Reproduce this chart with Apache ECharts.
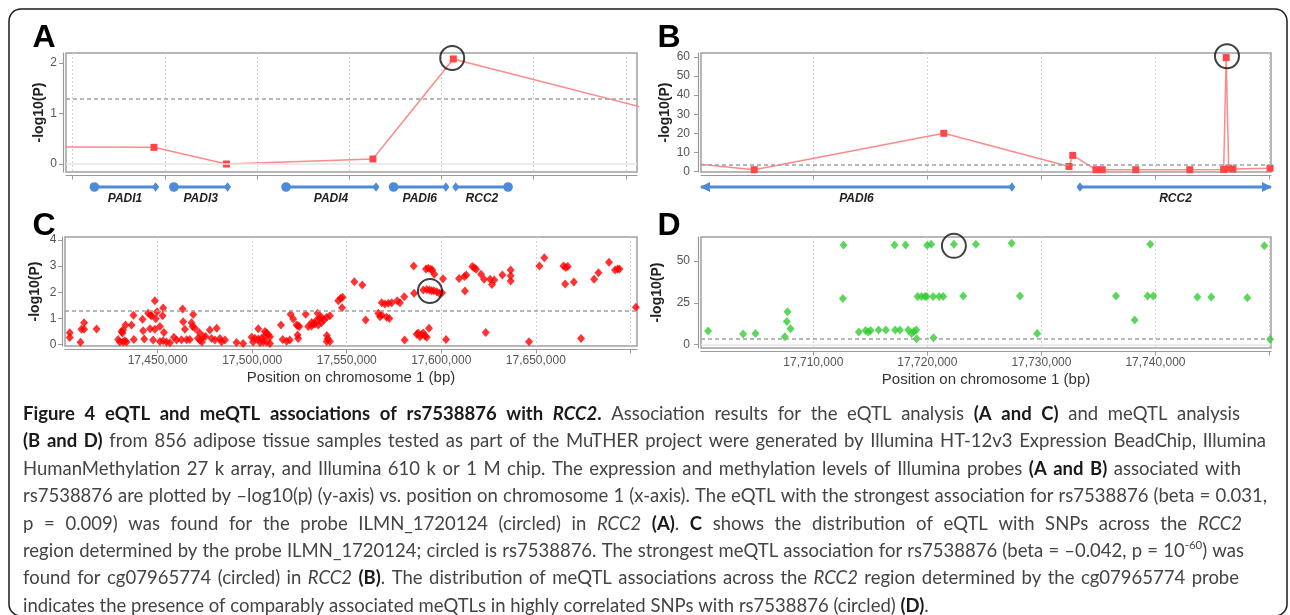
<!DOCTYPE html>
<html><head><meta charset="utf-8">
<script src="https://cdn.jsdelivr.net/npm/echarts@6/dist/echarts.min.js"></script>
<style>html,body{margin:0;padding:0;background:#fff}#c{width:1290px;height:615px}</style>
</head><body><div id="c"></div>
<script>
// ---------------- DATA ----------------
// Panel A: eQTL, -log10(P) of rs7538876 for expression probes (position in kb)
const aPosKb = [17471.4, 17544.1, 17583.4, 17662.8, 17706.4, 17840.2];
const aLogP  = [0.34, 0.33, 0.00, 0.10, 2.08, 0.83];
const aCircled = [17705.8, 2.10];
const aXTicks = [17500, 17550, 17600, 17650, 17700, 17750, 17800];
const aYTicks = [0, 1, 2];
const genesA = ['PADI1', 'PADI3', 'PADI4', 'PADI6', 'RCC2'];
const genesAStart = [17511.8, 17554.9, 17615.7, 17674.0, 17707.7];
const genesAEnd   = [17545.0, 17584.0, 17664.5, 17702.4, 17736.1];
const genesAStrand = [1, 1, 1, 1, -1];

// Panel B: meQTL, -log10(P) of rs7538876 for methylation probes
const bPos  = [17699000, 17704816, 17721440, 17732420, 17732745, 17734780, 17735330, 17738270, 17743010, 17745980, 17746200, 17746420, 17746790, 17750050];
const bLogP = [4.4, 0.9, 20.0, 2.6, 8.4, 0.9, 0.9, 0.9, 0.9, 1.0, 59.7, 1.7, 1.3, 1.7];
const bCircled = [17746270, 60.4];
const bYTicks = [0, 10, 20, 30, 40, 50, 60];
const genesB = ['PADI6', 'RCC2'];
const genesBStart = [17698740, 17733380];
const genesBEnd   = [17727410, 17766220];
const genesBStrand = [1, -1];

// Panel C: eQTL SNPs for probe ILMN_1720124
const cPos = [17403500,17403500,17409200,17409700,17411100,17411100,17417700,17429100,17430000,17431700,
17432600,17433500,17430900,17431700,17431400,17433000,17436200,17437200,17437400,17442000,
17442300,17442900,17445000,17446200,17446800,17446000,17447600,17448500,17449000,17448500,
17449700,17451200,17452900,17452600,17453300,17451200,17452900,17454700,17456500,17458600,
17460000,17463200,17463500,17464400,17462600,17465300,17467000,17467900,17468500,17468800,
17469700,17472000,17471300,17472300,17473400,17474100,17475300,17477600,17478500,17481200,
17480300,17482900,17483800,17485600,17491700,17495200,17499700,17501400,17503200,17505000,
17506700,17508500,17509400,17503200,17506700,17507600,17500500,17504100,17505800,17507600,
17509400,17515200,17516100,17518200,17519900,17520300,17521700,17523500,17524900,17524200,
17524000,17524300,17528300,17529600,17531400,17533200,17534100,17535800,17536700,17537900,
17539400,17541100,17531400,17532300,17535000,17536700,17534600,17539500,17540000,17541100,
17539400,17545500,17546800,17547800,17547500,17554000,17558200,17560000,17566700,17567600,
17568500,17568500,17570200,17572000,17573800,17571100,17572500,17576700,17578100,17580400,
17580600,17585400,17585600,17587000,17587800,17588700,17589600,17590500,17591400,17592300,
17590500,17592300,17593700,17594900,17596100,17597600,17598900,17591900,17593100,17594400,
17595200,17593500,17596300,17600900,17600400,17602500,17609400,17612200,17613200,17612500,
17616400,17617500,17618400,17621000,17622600,17625800,17628000,17626800,17623500,17632300,
17636700,17636700,17636700,17646400,17651900,17654500,17664600,17665800,17666900,17665500,
17670100,17673900,17680800,17683100,17688700,17691900,17693300,17694200,17702900];
const cLogP = [0.46,0.27,0.09,0.59,0.59,0.84,0.60,0.20,0.10,0.10,
0.15,0.10,0.50,0.56,0.45,0.75,0.75,1.12,0.20,0.97,
0.53,0.22,1.20,1.13,1.10,0.61,0.18,1.68,0.99,0.59,
1.26,0.69,1.40,1.10,0.47,0.12,0.15,0.10,0.07,0.28,
0.18,1.36,0.88,0.59,0.19,0.19,0.20,0.84,0.69,1.15,
0.63,0.47,0.25,0.18,0.10,0.31,0.31,0.56,0.24,0.63,
0.18,0.24,0.11,0.18,0.08,0.05,0.28,0.25,0.22,0.25,
0.33,0.37,0.30,0.61,0.50,0.46,0.10,0.08,0.10,0.10,
0.05,0.75,0.20,0.13,0.18,1.16,0.98,0.75,0.69,0.72,
0.37,0.24,1.16,0.69,0.71,0.79,0.94,1.00,1.05,0.94,
1.05,1.10,0.85,0.80,0.75,0.85,1.20,0.35,0.23,0.12,
0.12,1.68,1.77,1.81,1.41,2.40,2.28,0.94,1.20,1.07,
1.13,1.60,1.55,1.58,1.60,1.05,1.00,1.68,1.60,1.83,
0.18,3.00,1.96,0.40,0.45,0.30,0.38,0.45,0.33,0.28,
2.09,2.11,2.09,2.06,2.06,2.02,1.96,2.89,2.92,2.88,
2.85,0.63,2.69,2.52,1.98,0.20,2.53,2.60,2.66,2.05,
2.98,2.94,2.88,2.69,2.50,2.50,2.47,2.30,0.47,2.66,
2.85,2.63,2.43,0.11,3.00,3.32,3.00,2.95,2.98,2.32,
2.39,0.24,2.50,2.75,3.15,2.85,2.89,2.89,1.43];
const cCircled = [17594000, 2.05];
const cXTicks = [17450000, 17500000, 17550000, 17600000, 17650000, 17700000];
const cXTickLabels = ['17,450,000', '17,500,000', '17,550,000', '17,600,000', '17,650,000', ''];
const cYTicks = [0, 1, 2, 3, 4];

// Panel D: meQTL SNPs for probe cg07965774
const dPos = [17700772,17703842,17704930,17707500,17707675,17707737,17708000,17712649,17712588,17713990,
17714580,17714810,17715020,17715720,17716360,17717120,17717175,17717590,17718090,17718320,
17718610,17718815,17719020,17719050,17719140,17719490,17719780,17719930,17720510,17721040,
17721390,17719980,17720330,17720540,17722325,17723140,17724255,17727386,17728115,17729630,
17736535,17738175,17739315,17739810,17739545,17743670,17744895,17748055,17749545,17750050];
const dLogP = [8.1,6.3,6.7,4.7,13.9,19.7,9.5,59.5,27.5,7.5,
8.5,7.5,8.5,8.7,8.7,59.5,8.7,8.7,59.5,8.7,
6.7,7.9,8.7,3.5,28.7,28.7,28.7,28.7,28.7,28.7,
28.7,59.3,60.0,4.1,60.0,29.0,60.0,60.6,29.0,6.7,
29.0,14.7,29.0,29.0,60.0,28.4,28.4,28.0,59.0,3.3];
const dCircled = [17722325, 59.0];
const bdXTicks = [17710000, 17720000, 17730000, 17740000, 17750000];
const dXTickLabels = ['17,710,000', '17,720,000', '17,730,000', '17,740,000', ''];
const dYTicks = [0, 25, 50];

const thresholdEQTL = 1.3;
const thresholdMeQTL = 3.6;

// Caption (markup: {b|bold} {bi|bold italic} {i|italic} {sup|superscript})
const captionLines = [
 '{b|Figure 4 eQTL and meQTL associations of rs7538876 with }{bi|RCC2}{b|.} Association results for the eQTL analysis {b|(A and C)} and meQTL analysis',
 '{b|(B and D)} from 856 adipose tissue samples tested as part of the MuTHER project were generated by Illumina HT-12v3 Expression BeadChip, Illumina',
 'HumanMethylation 27 k array, and Illumina 610 k or 1 M chip. The expression and methylation levels of Illumina probes {b|(A and B)} associated with',
 'rs7538876 are plotted by \u2013log10(p) (y-axis) vs. position on chromosome 1 (x-axis). The eQTL with the strongest association for rs7538876 (beta = 0.031,',
 'p = 0.009) was found for the probe ILMN_1720124 (circled) in {i|RCC2} {b|(A)}. {b|C} shows the distribution of eQTL with SNPs across the {i|RCC2}',
 'region determined by the probe ILMN_1720124; circled is rs7538876. The strongest meQTL association for rs7538876 (beta = \u20130.042, p = 10{sup|-60}) was',
 'found for cg07965774 (circled) in {i|RCC2} {b|(B)}. The distribution of meQTL associations across the {i|RCC2} region determined by the cg07965774 probe',
 'indicates the presence of comparably associated meQTLs in highly correlated SNPs with rs7538876 (circled) {b|(D)}.'
];

// ---------------- LAYOUT ----------------
const FONT = '"Liberation Sans", Arial, sans-serif';
const aRange = [17496.4, 17806.0];
const bdRange = [17700150, 17750130];
const cRange = [17401000, 17703500];

const zip = (xs, ys) => xs.map((x, i) => [x, ys[i]]);

function mkX(gi, range, ticks, labels, name) {
  const lm = {};
  ticks.forEach((t, i) => { lm[t] = labels ? labels[i] : ''; });
  return {
    type: 'value', gridIndex: gi, min: range[0], max: range[1], offset: 3.5,
    name: name || '', nameLocation: 'middle', nameGap: 21,
    nameTextStyle: {fontFamily: FONT, fontSize: 15, color: '#333'},
    axisLine: {show: true, onZero: false, lineStyle: {color: '#9a9a9a', width: 1.2}},
    axisTick: {show: true, inside: false, length: 4, customValues: ticks, lineStyle: {color: '#9a9a9a'}},
    axisLabel: {show: !!labels, customValues: ticks, margin: 5, color: '#555', fontSize: 12, fontFamily: FONT,
      formatter: v => (lm[v] !== undefined ? lm[v] : '')},
    splitLine: {show: true, lineStyle: {color: '#d4d4d4', width: 1, type: [2, 2]}}
  };
}
function mkY(gi, min, max, ticks, gap, margin) {
  return {
    type: 'value', gridIndex: gi, min: min, max: max, offset: 3,
    name: '-log10(P)', nameLocation: 'middle', nameRotate: 90, nameGap: gap,
    nameTextStyle: {fontFamily: FONT, fontWeight: 'bold', fontSize: 14, color: '#222'},
    axisLine: {show: true, onZero: false, lineStyle: {color: '#9a9a9a', width: 1.2}},
    axisTick: {show: true, inside: false, length: 4, customValues: ticks, lineStyle: {color: '#9a9a9a'}},
    axisLabel: {customValues: ticks, margin: margin, color: '#555', fontSize: 12, fontFamily: FONT,
      formatter: v => (ticks.indexOf(v) >= 0 ? String(v) : '')},
    splitLine: {show: false}
  };
}
function hiddenX(gi, range) { return {type: 'value', gridIndex: gi, min: range[0], max: range[1], show: false}; }
function hiddenY(gi) { return {type: 'value', gridIndex: gi, min: 0, max: 1, show: false}; }

const gridBox = {show: true, borderColor: '#a0a0a0', borderWidth: 1.5, backgroundColor: '#fff'};
const threshStyle = {type: [4, 3], color: '#a0a0a0', width: 1.5};

function thresholdLine(v, zeroLine) {
  const data = [{yAxis: v, lineStyle: threshStyle}];
  if (zeroLine) data.push({yAxis: 0, lineStyle: {type: 'solid', color: '#e4e4e4', width: 1.5}});
  return {silent: true, symbol: 'none', label: {show: false}, animation: false, data: data};
}
function ring(xi, yi, pt) {
  return {type: 'scatter', xAxisIndex: xi, yAxisIndex: yi, data: [pt], symbol: 'circle', symbolSize: 24, z: 10,
    itemStyle: {color: 'rgba(0,0,0,0)', borderColor: '#111', borderWidth: 2}, silent: true};
}

const GENE_COLOR = '#4d8ad8';
function geneSeries(xi, names, starts, ends, strands, range) {
  return {
    type: 'custom', xAxisIndex: xi, yAxisIndex: xi, clip: false, silent: true,
    data: starts.map((s, i) => [s, ends[i], strands[i]]),
    renderItem: function (params, api) {
      const i = params.dataIndex;
      const s = api.value(0), e = api.value(1), strand = api.value(2);
      const cs = Math.max(s, range[0]), ce = Math.min(e, range[1]);
      const p1 = api.coord([cs, 0.5]), p2 = api.coord([ce, 0.5]);
      const y = p1[1];
      const kids = [{type: 'line', shape: {x1: p1[0], y1: y, x2: p2[0], y2: y}, style: {stroke: GENE_COLOR, lineWidth: 3}}];
      function mark(x, kind, dir) {
        if (kind === 'arrow') return {type: 'polygon', shape: {points: [[x + dir * 1, y], [x - dir * 9, y - 5], [x - dir * 9, y + 5]]}, style: {fill: GENE_COLOR}};
        if (kind === 'circle') return {type: 'circle', shape: {cx: x, cy: y, r: 4.8}, style: {fill: GENE_COLOR}};
        return {type: 'polygon', shape: {points: [[x - 3.5, y], [x, y - 4.8], [x + 3.5, y], [x, y + 4.8]]}, style: {fill: GENE_COLOR}};
      }
      const lk = s < range[0] ? 'arrow' : (strand > 0 ? 'circle' : 'diamond');
      const rk = e > range[1] ? 'arrow' : (strand > 0 ? 'diamond' : 'circle');
      kids.push(mark(p1[0], lk, -1));
      kids.push(mark(p2[0], rk, 1));
      kids.push({type: 'text', x: (p1[0] + p2[0]) / 2, y: y + 12,
        style: {text: names[i], font: 'italic bold 12px ' + FONT, fill: '#222', align: 'center', verticalAlign: 'middle', textAlign: 'center', textVerticalAlign: 'middle'}});
      return {type: 'group', children: kids};
    }
  };
}

// ---------------- CAPTION LAYOUT ----------------
const mctx = document.createElement('canvas').getContext('2d');
function fontAvailable(name) {
  const s = 'abcdefghijklmnopqrstuvwxyz ABCDEFGHIJ 0123456789';
  mctx.font = '40px monospace'; const w0 = mctx.measureText(s).width;
  mctx.font = '40px "' + name + '", monospace'; const w1 = mctx.measureText(s).width;
  return Math.abs(w0 - w1) > 0.5;
}
let capFamily = '"Liberation Sans"';
if (fontAvailable('Liberation Sans Narrow')) capFamily = '"Liberation Sans Narrow"';
else if (fontAvailable('Lato')) capFamily = 'Lato';

function capFont(st, size) {
  const bold = (st === 'b' || st === 'bi'), ital = (st === 'i' || st === 'bi');
  const sz = st === 'sup' ? Math.round(size * 0.62 * 2) / 2 : size;
  return (ital ? 'italic ' : '') + (bold ? 'bold ' : '') + sz + 'px ' + capFamily;
}
function parseRuns(line) {
  const re = /\{(\w+)\|([^}]*)\}|([^{]+)/g; let m; const runs = [];
  while ((m = re.exec(line))) { if (m[1]) runs.push([m[1], m[2]]); else runs.push(['r', m[3]]); }
  return runs;
}
function toWords(runs) {
  const words = []; let cur = [];
  runs.forEach(([st, txt]) => {
    txt.split(' ').forEach((p, i) => {
      if (i > 0) { if (cur.length) words.push(cur); cur = []; }
      if (p) cur.push([st, p]);
    });
  });
  if (cur.length) words.push(cur);
  return words;
}
function measureRun(st, t, size) { mctx.font = capFont(st, size); return mctx.measureText(t).width; }
function wordWidth(w, size) { return w.reduce((a, r) => a + measureRun(r[0], r[1], size), 0); }

const capX0 = 23;
const capEnds = [1240, 1266, 1241, 1267, 1242, 1244, 1239];
const capWords = captionLines.map(l => toWords(parseRuns(l)));
let capSize = 19;
capWords.forEach((ws, i) => {
  if (i >= capEnds.length) return;
  const nat = ws.reduce((a, w) => a + wordWidth(w, 20), 0) + (ws.length - 1) * measureRun('r', ' ', 20) * 0.85;
  const s = 20 * (capEnds[i] - capX0) / nat;
  if (s < capSize) capSize = s;
});
capSize = Math.floor(capSize * 2) / 2;

const graphics = [];
graphics.push({type: 'rect', silent: true, shape: {x: 9, y: 9, width: 1278, height: 607, r: 12},
  style: {fill: 'none', stroke: '#1a1a1a', lineWidth: 1.5}});
[['A', 44, 38.5], ['B', 669, 38.5], ['C', 44, 226.5], ['D', 669, 226.5]].forEach(([t, x, y]) => {
  graphics.push({type: 'text', x: x, y: y, silent: true,
    style: {text: t, font: 'bold 32px ' + FONT, fill: '#000', align: 'center', verticalAlign: 'middle', textAlign: 'center', textVerticalAlign: 'middle'}});
});
capWords.forEach((ws, i) => {
  const y = 414 + i * 27.4;
  const widths = ws.map(w => wordWidth(w, capSize));
  const total = widths.reduce((a, b) => a + b, 0);
  let gap = measureRun('r', ' ', capSize);
  if (i < capEnds.length && ws.length > 1) gap = (capEnds[i] - capX0 - total) / (ws.length - 1);
  let x = capX0;
  ws.forEach((w, k) => {
    let rx = x;
    w.forEach(([st, t]) => {
      const bold = (st === 'b' || st === 'bi');
      graphics.push({type: 'text', x: rx, y: st === 'sup' ? y - capSize * 0.33 : y, silent: true,
        style: {text: t, font: capFont(st, capSize), fill: bold ? '#1a1a1a' : '#444',
          align: 'left', verticalAlign: 'middle', textAlign: 'left', textVerticalAlign: 'middle'}});
      rx += measureRun(st, t, capSize);
    });
    x += widths[k] + gap;
  });
});

// ---------------- CHART ----------------
const option = {
  animation: false,
  textStyle: {fontFamily: FONT},
  grid: [
    Object.assign({left: 66, top: 53, width: 571, height: 119}, gridBox),
    Object.assign({left: 701, top: 53, width: 570, height: 119}, gridBox),
    Object.assign({left: 65, top: 237, width: 572, height: 109}, gridBox),
    Object.assign({left: 701, top: 237, width: 570, height: 111}, gridBox),
    {left: 66, top: 177, width: 571, height: 20, show: false},
    {left: 701, top: 177, width: 570, height: 20, show: false}
  ],
  xAxis: [
    mkX(0, aRange, aXTicks, null, ''),
    mkX(1, bdRange, bdXTicks, null, ''),
    mkX(2, cRange, cXTicks, cXTickLabels, 'Position on chromosome 1 (bp)'),
    mkX(3, bdRange, bdXTicks, dXTickLabels, 'Position on chromosome 1 (bp)'),
    hiddenX(4, aRange),
    hiddenX(5, bdRange)
  ],
  yAxis: [
    mkY(0, -0.158, 2.198, aYTicks, 16, 6),
    mkY(1, -0.3, 62.1, bYTicks, 26, 8),
    mkY(2, -0.05, 4.11, cYTicks, 20, 5.5),
    mkY(3, -2.0, 64.3, dYTicks, 34, 8),
    hiddenY(4),
    hiddenY(5)
  ],
  series: [
    {type: 'line', xAxisIndex: 0, yAxisIndex: 0, data: zip(aPosKb, aLogP), clip: true,
      symbol: 'rect', symbolSize: 7, showAllSymbol: true, itemStyle: {color: '#ff4747'},
      lineStyle: {color: '#ff8a8a', width: 1.5}, markLine: thresholdLine(thresholdEQTL, true)},
    ring(0, 0, aCircled),
    {type: 'line', xAxisIndex: 1, yAxisIndex: 1, data: zip(bPos, bLogP), clip: true,
      symbol: 'rect', symbolSize: 7, showAllSymbol: true, itemStyle: {color: '#ff4747'},
      lineStyle: {color: '#ff8a8a', width: 1.5}, markLine: thresholdLine(thresholdMeQTL, false)},
    ring(1, 1, bCircled),
    {type: 'scatter', xAxisIndex: 2, yAxisIndex: 2, data: zip(cPos, cLogP), symbol: 'diamond', symbolSize: [8, 9],
      itemStyle: {color: '#ff0000'}, markLine: thresholdLine(thresholdEQTL, false)},
    ring(2, 2, cCircled),
    {type: 'scatter', xAxisIndex: 3, yAxisIndex: 3, data: zip(dPos, dLogP), symbol: 'diamond', symbolSize: [8, 9],
      itemStyle: {color: '#33cc33'}, markLine: thresholdLine(thresholdMeQTL, true)},
    ring(3, 3, dCircled),
    geneSeries(4, genesA, genesAStart, genesAEnd, genesAStrand, aRange),
    geneSeries(5, genesB, genesBStart, genesBEnd, genesBStrand, bdRange)
  ],
  graphic: {elements: graphics}
};

const chart = echarts.init(document.getElementById('c'), null, {renderer: 'canvas'});
chart.setOption(option);
</script>
</body></html>
